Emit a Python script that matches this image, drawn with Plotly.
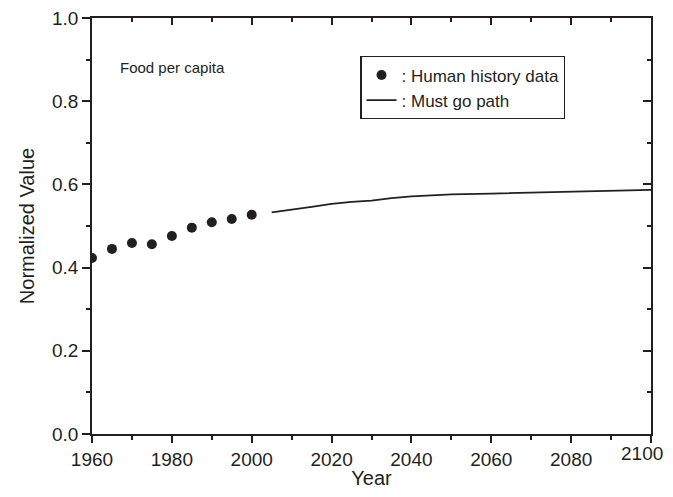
import plotly.graph_objects as go

hist_years = [1960, 1965, 1970, 1975, 1980, 1985, 1990, 1995, 2000]
hist_values = [0.423, 0.445, 0.459, 0.456, 0.476, 0.496, 0.509, 0.517, 0.527]

path_years = [2005, 2010, 2015, 2020, 2025, 2030, 2035, 2040, 2045, 2050, 2060, 2070, 2080, 2090, 2100]
path_values = [0.533, 0.539, 0.546, 0.553, 0.558, 0.561, 0.567, 0.571, 0.574, 0.576, 0.578, 0.580, 0.582, 0.584, 0.587]

x_ticks = [1960, 1980, 2000, 2020, 2040, 2060, 2080, 2100]
x_ticklabels = ["1960", "1980", "2000", "2020", "2040", "2060", "2080", "2100"]
y_ticks = [0.0, 0.2, 0.4, 0.6, 0.8, 1.0]
y_ticklabels = ["0.0", "0.2", "0.4", "0.6", "0.8", "1.0"]

INK = "#231f20"
FONT = "Liberation Sans, Arial, sans-serif"

fig = go.Figure()
fig.add_trace(go.Scatter(
    x=hist_years, y=hist_values, mode="markers",
    marker=dict(size=10, color=INK),
    name=": Human history data", xaxis="x", yaxis="y",
))
fig.add_trace(go.Scatter(
    x=path_years, y=path_values, mode="lines",
    line=dict(color=INK, width=1.8),
    name=": Must go path", xaxis="x2", yaxis="y2",
))

axis_common = dict(
    showgrid=False, zeroline=False, showline=True, linecolor=INK, linewidth=1.5,
    tickcolor=INK, tickwidth=1.5, automargin=False,
)

# the last x label would overflow the page edge, so it is drawn as an annotation
shown_x_labels = x_ticklabels[:-1] + [""]

# page body has an 8px margin; figure size and margins compensate for it
fig.update_layout(
    width=657, height=481,
    margin=dict(l=84, r=14, t=10, b=55),
    paper_bgcolor="white", plot_bgcolor="white",
    font=dict(family=FONT, color=INK, size=19),
    xaxis=dict(
        range=[1960, 2100], tickvals=x_ticks, ticktext=shown_x_labels,
        ticks="outside", ticklen=7,
        minor=dict(ticks="outside", ticklen=4, dtick=10, tick0=1960, tickcolor=INK, tickwidth=1.5),
        title=dict(text="Year", font=dict(size=20), standoff=9),
        tickfont=dict(size=19), ticklabeloverflow="allow",
        **axis_common,
    ),
    yaxis=dict(
        range=[0, 1.0], tickvals=y_ticks, ticktext=y_ticklabels, ticks="outside", ticklen=8,
        minor=dict(ticks="outside", ticklen=4, dtick=0.1, tick0=0, tickcolor=INK, tickwidth=1.5),
        title=dict(text="Normalized Value", font=dict(size=20), standoff=12),
        tickfont=dict(size=19), ticklabeloverflow="allow",
        **axis_common,
    ),
    xaxis2=dict(
        overlaying="x", side="top", range=[1960, 2100], tickvals=x_ticks,
        ticks="inside", ticklen=7, showticklabels=False,
        minor=dict(ticks="inside", ticklen=4, dtick=10, tick0=1960, tickcolor=INK, tickwidth=1.5),
        **axis_common,
    ),
    yaxis2=dict(
        overlaying="y", side="right", range=[0, 1.0], tickvals=y_ticks,
        ticks="inside", ticklen=8, showticklabels=False,
        minor=dict(ticks="inside", ticklen=4, dtick=0.1, tick0=0, tickcolor=INK, tickwidth=1.5),
        **axis_common,
    ),
    legend=dict(
        x=0.48, y=0.908, xanchor="left", yanchor="top",
        bordercolor=INK, borderwidth=1.2, bgcolor="white",
        font=dict(size=17, family=FONT, color=INK),
        tracegroupgap=0,
    ),
    showlegend=True,
    annotations=[
        dict(
            text="Food per capita", xref="x", yref="paper",
            x=1966.5, y=0.88, xanchor="left", yanchor="middle",
            showarrow=False, font=dict(size=15, family=FONT, color=INK),
        ),
        dict(
            text=x_ticklabels[-1], xref="paper", yref="paper",
            x=1, y=0, xanchor="right", yanchor="top", xshift=13, yshift=-8,
            showarrow=False, font=dict(size=19, family=FONT, color=INK),
            borderpad=0,
        ),
    ],
)

fig.write_html("out.html")
